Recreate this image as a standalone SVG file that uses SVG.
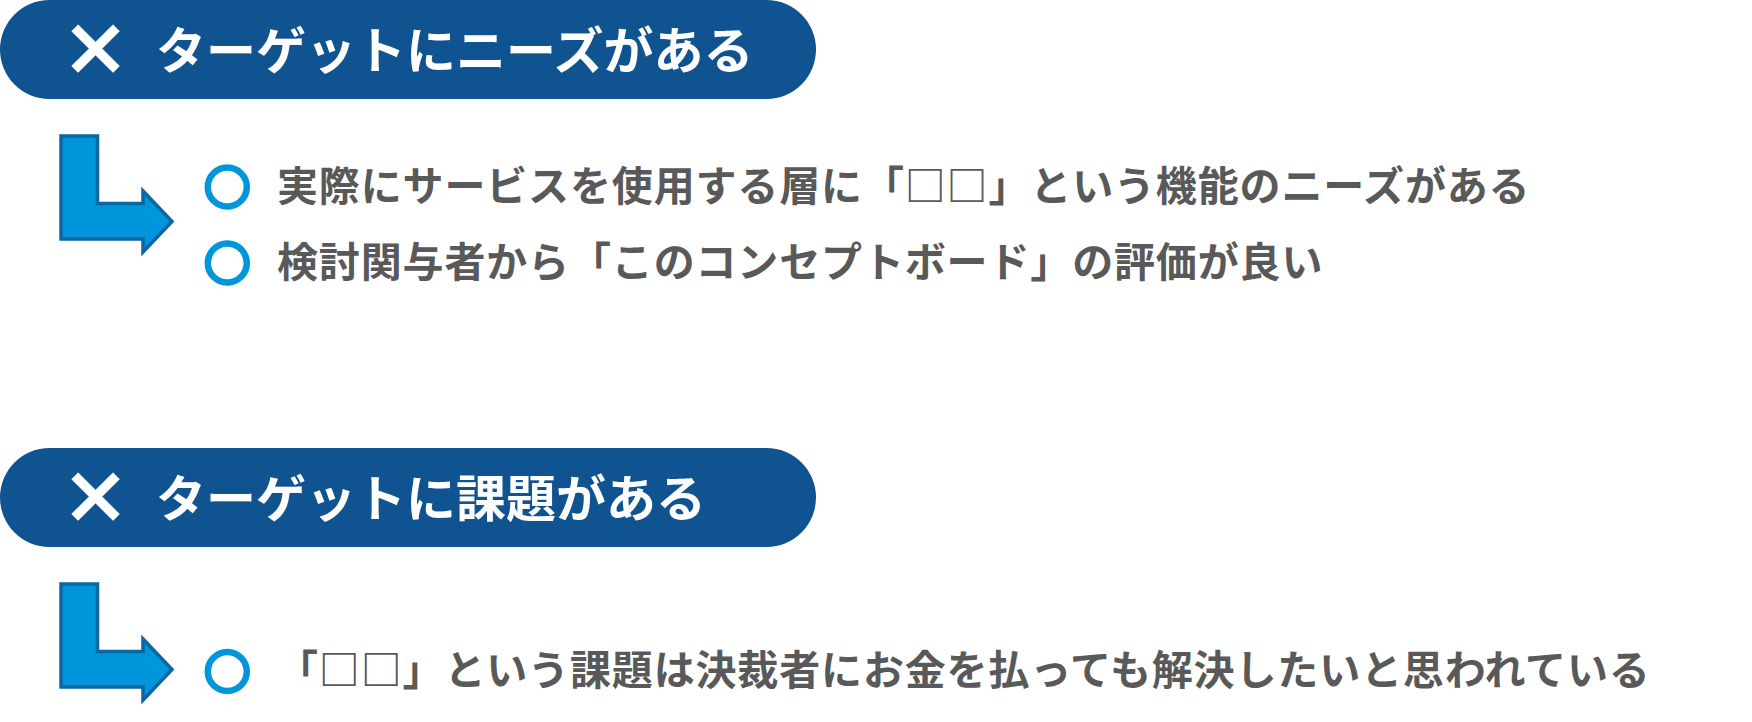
<svg xmlns="http://www.w3.org/2000/svg" width="1752" height="722" viewBox="0 0 1752 722">
<defs>
<style>
.pill{fill:#0F5391;}
.ttl{font-family:"Noto Sans CJK JP","Noto Sans CJK SC",sans-serif;font-weight:700;font-size:50px;fill:#FFFFFF;letter-spacing:0px;}
.x{font-family:"Noto Sans CJK JP",sans-serif;font-weight:700;font-size:68px;fill:#FFFFFF;stroke:#FFFFFF;stroke-width:2.5;text-anchor:middle;}
.arrow{fill:#0096DC;stroke:#0A67A3;stroke-width:3.5;stroke-linejoin:miter;}
.dot{fill:none;stroke:#0096DC;stroke-width:6.5;}
.item{font-family:"Noto Sans CJK JP","Noto Sans CJK SC",sans-serif;font-weight:700;font-size:41px;fill:#595959;letter-spacing:0.85px;}
</style>
<polygon id="larrow" points="61,136 97.5,136 97.5,203.5 143,203.5 143,191 172,221.5 143,252 143,239 61,239"/>
</defs>
<g id="title1">
<rect class="pill" x="0" y="0" width="816" height="99" rx="49.5" ry="49.5"/>
<text class="x" x="95.5" y="75">×</text>
<text class="ttl" x="156" y="69">ターゲットにニーズがある</text>
</g>
<g id="title2">
<rect class="pill" x="0" y="448" width="816" height="99" rx="49.5" ry="49.5"/>
<text class="x" x="95.5" y="523">×</text>
<text class="ttl" x="156" y="517">ターゲットに課題がある</text>
</g>
<g id="connectors">
<use href="#larrow" class="arrow"/>
<use href="#larrow" class="arrow" transform="translate(0,448)"/>
</g>
<g id="item1">
<circle class="dot" cx="227.3" cy="187" r="19.5"/>
<text class="item" x="277" y="201">実際にサービスを使用する層に「□□」という機能のニーズがある</text>
</g>
<g id="item2">
<circle class="dot" cx="227.3" cy="263" r="19.5"/>
<text class="item" x="277" y="277">検討関与者から「このコンセプトボード」の評価が良い</text>
</g>
<g id="item3">
<circle class="dot" cx="227.3" cy="671.5" r="19.5"/>
<text class="item" x="277" y="685">「□□」という課題は決裁者にお金を払っても解決したいと思われている</text>
</g>
</svg>
